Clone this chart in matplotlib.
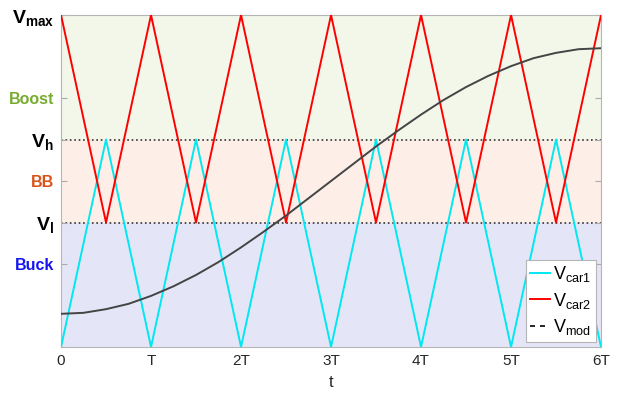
import numpy as np
import matplotlib.pyplot as plt
from matplotlib.lines import Line2D

plt.rcParams['font.family'] = ['Liberation Sans', 'DejaVu Sans']
plt.rcParams['mathtext.fontset'] = 'custom'
plt.rcParams['mathtext.rm'] = 'Liberation Sans'
plt.rcParams['mathtext.it'] = 'Liberation Sans'
plt.rcParams['mathtext.bf'] = 'Liberation Sans:bold'

# --- data (normalised voltage levels, time in units of T) ---
v_max = 1.0
v_h = 0.625
v_l = 0.375

# carrier vertices
car1_t = [0, 0.5, 1, 1.5, 2, 2.5, 3, 3.5, 4, 4.5, 5, 5.5, 6]
car1_v = [0, 0.625, 0, 0.625, 0, 0.625, 0, 0.625, 0, 0.625, 0, 0.625, 0]
car2_t = [0, 0.5, 1, 1.5, 2, 2.5, 3, 3.5, 4, 4.5, 5, 5.5, 6]
car2_v = [1, 0.375, 1, 0.375, 1, 0.375, 1, 0.375, 1, 0.375, 1, 0.375, 1]

# modulation signal
mod_t = [0, 0.25, 0.5, 0.75, 1, 1.25, 1.5, 1.75, 2, 2.25, 2.5, 2.75, 3,
         3.25, 3.5, 3.75, 4, 4.25, 4.5, 4.75, 5, 5.25, 5.5, 5.75, 6]
mod_v = [0.100, 0.103, 0.114, 0.130, 0.154, 0.183, 0.217, 0.256, 0.300,
         0.347, 0.396, 0.448, 0.500, 0.552, 0.604, 0.653, 0.700, 0.744,
         0.783, 0.817, 0.846, 0.870, 0.886, 0.897, 0.900]

x_ticks = [0, 1, 2, 3, 4, 5, 6]
x_labels = ['0', 'T', '2T', '3T', '4T', '5T', '6T']
y_ticks = [0.25, 0.375, 0.5, 0.625, 0.75, 1.0]
y_labels = ['Buck', r'$\mathbf{V_l}$', 'BB', r'$\mathbf{V_h}$', 'Boost', r'$\mathbf{V_{max}}$']
y_colors = ['#1515f0', 'black', '#d95319', 'black', '#77ac30', 'black']
y_sizes = [11.5, 14, 11.5, 14, 11.5, 14]

fig = plt.figure(figsize=(6.24, 3.96), dpi=100)
ax = fig.add_axes([0.0978, 0.1237, 0.8654, 0.8384])

# region shading
ax.axhspan(v_h, v_max, color='#f2f7ea', zorder=0)
ax.axhspan(v_l, v_h, color='#fdeee8', zorder=0)
ax.axhspan(0, v_l, color='#e5e5f8', zorder=0)

ax.axhline(v_h, color='#333333', ls=':', lw=1.2, zorder=1)
ax.axhline(v_l, color='#333333', ls=':', lw=1.2, zorder=1)

ax.plot(car1_t, car1_v, color='#00e8f0', lw=1.4, zorder=3)
ax.plot(car2_t, car2_v, color='#ff0000', lw=1.4, zorder=3)
ax.plot(mod_t, mod_v, color='#444444', lw=1.4, zorder=4)

ax.set_xlim(0, 6)
ax.set_ylim(0, 1)
ax.set_xticks(x_ticks)
ax.set_xticklabels(x_labels, fontsize=11, color='#262626')
ax.set_yticks(y_ticks)
ax.set_yticklabels(y_labels, fontweight='bold')
for lab, c, s in zip(ax.get_yticklabels(), y_colors, y_sizes):
    lab.set_color(c)
    lab.set_fontsize(s)
ax.set_xlabel('t', fontsize=12, color='#262626', labelpad=5)

ax.tick_params(direction='in', length=4, color='#aaaaaa', top=True, right=True, pad=5)
for s in ax.spines.values():
    s.set_color('#b5b5b5')

handles = [Line2D([], [], color='#00e8f0', lw=1.4),
           Line2D([], [], color='#ff0000', lw=1.4),
           Line2D([], [], color='black', lw=1.2, ls=(0, (3, 3)))]
labels = [r'$\mathregular{V_{car1}}$', r'$\mathregular{V_{car2}}$', r'$\mathregular{V_{mod}}$']
leg = ax.legend(handles, labels, loc='lower right', fontsize=13, fancybox=False,
                handlelength=1.1, handletextpad=0.15, borderpad=0.25, labelspacing=0.35,
                borderaxespad=0.3, framealpha=1)
leg.get_frame().set_edgecolor('#b5b5b5')
leg.get_frame().set_linewidth(0.8)

fig.savefig('out.png', dpi=100)
